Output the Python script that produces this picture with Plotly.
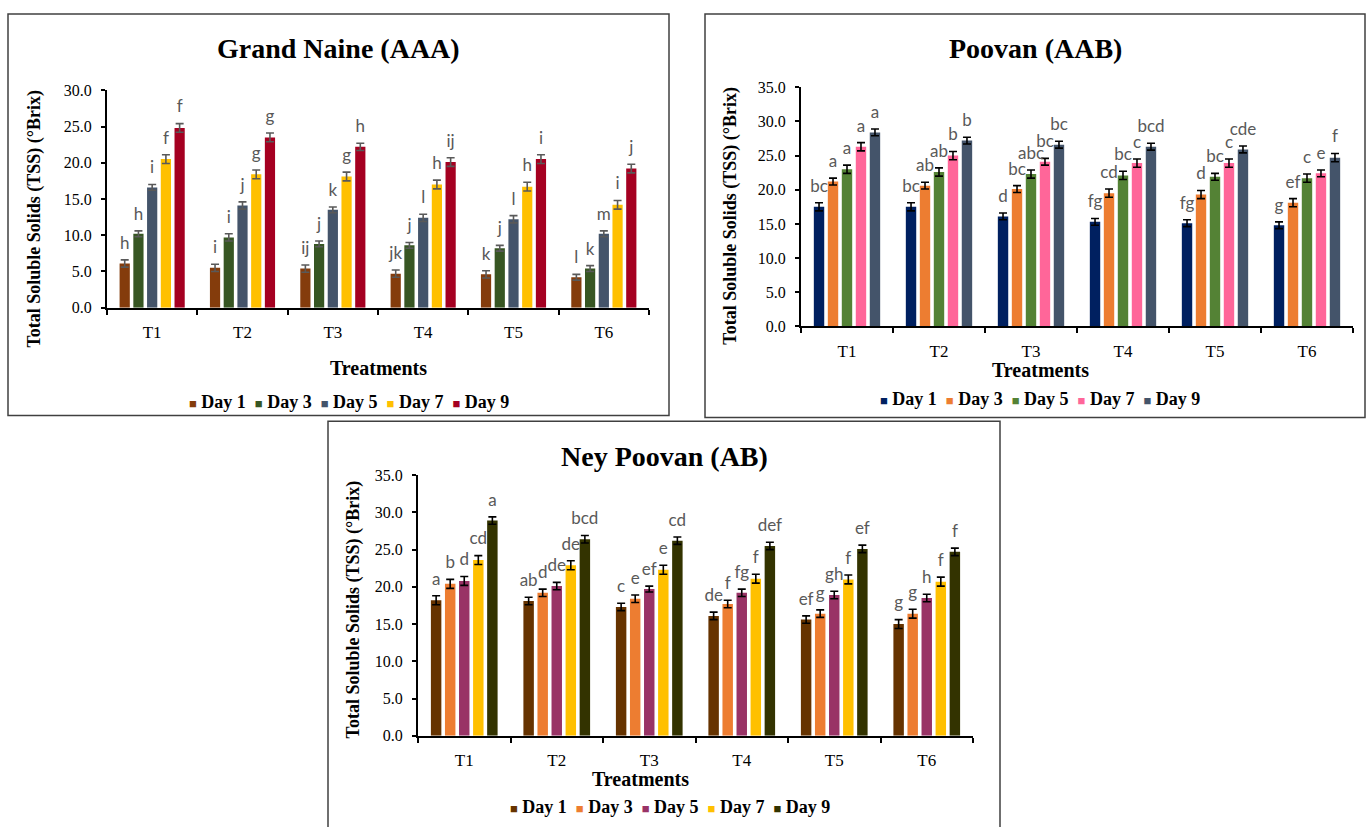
import plotly.graph_objects as go

W_PX, H_PX = 1368, 827

treatments = ["T1", "T2", "T3", "T4", "T5", "T6"]
days = ["Day 1", "Day 3", "Day 5", "Day 7", "Day 9"]

# ---------------- Grand Naine (AAA) ----------------
gn_day1 = [6.1, 5.5, 5.4, 4.7, 4.6, 4.2]
gn_day3 = [10.2, 9.7, 8.8, 8.6, 8.2, 5.4]
gn_day5 = [16.6, 14.1, 13.5, 12.4, 12.2, 10.2]
gn_day7 = [20.5, 18.4, 18.1, 17.0, 16.7, 14.2]
gn_day9 = [24.8, 23.5, 22.2, 20.1, 20.5, 19.2]
gn_err1 = [0.5, 0.5, 0.5, 0.5, 0.5, 0.4]
gn_err3 = [0.4, 0.5, 0.4, 0.4, 0.4, 0.4]
gn_err5 = [0.4, 0.5, 0.4, 0.5, 0.5, 0.4]
gn_err7 = [0.6, 0.6, 0.6, 0.6, 0.6, 0.6]
gn_err9 = [0.6, 0.6, 0.5, 0.6, 0.6, 0.6]
gn_let1 = ["h", "i", "ij", "jk", "k", "l"]
gn_let3 = ["h", "i", "j", "j", "j", "k"]
gn_let5 = ["i", "j", "k", "l", "l", "m"]
gn_let7 = ["f", "g", "g", "h", "h", "i"]
gn_let9 = ["f", "g", "h", "ij", "i", "j"]
gn_colors = ["#843C0C", "#375623", "#44546A", "#FFC000", "#A50021"]

# ---------------- Poovan (AAB) ----------------
pv_day1 = [17.5, 17.5, 16.1, 15.3, 15.1, 14.8]
pv_day3 = [21.2, 20.6, 20.1, 19.5, 19.3, 18.1]
pv_day5 = [23.0, 22.6, 22.3, 22.1, 21.9, 21.7]
pv_day7 = [26.3, 25.0, 24.1, 23.9, 23.9, 22.4]
pv_day9 = [28.4, 27.2, 26.6, 26.3, 25.9, 24.7]
pv_err1 = [0.6, 0.6, 0.5, 0.5, 0.5, 0.5]
pv_err3 = [0.5, 0.5, 0.5, 0.6, 0.6, 0.6]
pv_err5 = [0.6, 0.6, 0.6, 0.6, 0.5, 0.6]
pv_err7 = [0.6, 0.6, 0.5, 0.6, 0.6, 0.5]
pv_err9 = [0.5, 0.5, 0.5, 0.5, 0.5, 0.6]
pv_let1 = ["bc", "bc", "d", "fg", "fg", "g"]
pv_let3 = ["a", "ab", "bc", "cd", "d", "ef"]
pv_let5 = ["a", "ab", "abc", "bc", "bc", "c"]
pv_let7 = ["a", "b", "bc", "c", "c", "e"]
pv_let9 = ["a", "b", "bc", "bcd", "cde", "f"]
pv_colors = ["#002060", "#ED7D31", "#548235", "#FF6699", "#44546A"]

# ---------------- Ney Poovan (AB) ----------------
np_day1 = [18.2, 18.1, 17.3, 16.1, 15.6, 15.0]
np_day3 = [20.4, 19.2, 18.4, 17.7, 16.4, 16.4]
np_day5 = [20.8, 20.1, 19.7, 19.2, 18.9, 18.5]
np_day7 = [23.6, 22.9, 22.3, 21.1, 21.0, 20.7]
np_day9 = [28.9, 26.4, 26.2, 25.5, 25.1, 24.7]
np_err1 = [0.6, 0.5, 0.5, 0.5, 0.5, 0.6]
np_err3 = [0.6, 0.5, 0.5, 0.5, 0.5, 0.6]
np_err5 = [0.6, 0.5, 0.4, 0.5, 0.5, 0.5]
np_err7 = [0.6, 0.6, 0.6, 0.6, 0.6, 0.6]
np_err9 = [0.5, 0.5, 0.5, 0.5, 0.5, 0.5]
np_let1 = ["a", "ab", "c", "de", "ef", "g"]
np_let3 = ["b", "d", "e", "f", "g", "g"]
np_let5 = ["d", "de", "ef", "fg", "gh", "h"]
np_let7 = ["cd", "de", "e", "f", "f", "f"]
np_let9 = ["a", "bcd", "cd", "def", "ef", "f"]
np_colors = ["#663300", "#ED7D31", "#993366", "#FFC000", "#333300"]

SERIF = "Liberation Serif"
LETTER_FONT = "Lato"


def px(x):
    return x / W_PX


def py(y):
    return 1 - y / H_PX


panels = [
    dict(title="Grand Naine (AAA)",
         vals=[gn_day1, gn_day3, gn_day5, gn_day7, gn_day9],
         errs=[gn_err1, gn_err3, gn_err5, gn_err7, gn_err9],
         lets=[gn_let1, gn_let3, gn_let5, gn_let7, gn_let9],
         colors=gn_colors, errcolor="#595959", ymax=30,
         frame=(8, 6, 669, 416), plot=(107, 649, 306, 84),
         title_xy=(338, 41), ytitle_xy=(35, 215), xtitle_xy=(378, 368),
         legend_xy=(349, 402)),
    dict(title="Poovan (AAB)",
         vals=[pv_day1, pv_day3, pv_day5, pv_day7, pv_day9],
         errs=[pv_err1, pv_err3, pv_err5, pv_err7, pv_err9],
         lets=[pv_let1, pv_let3, pv_let5, pv_let7, pv_let9],
         colors=pv_colors, errcolor="#000000", ymax=35,
         frame=(705, 6, 1365, 418), plot=(801, 1353, 325, 81),
         title_xy=(1035, 41), ytitle_xy=(731, 212), xtitle_xy=(1040, 370),
         legend_xy=(1040, 399)),
    dict(title="Ney Poovan (AB)",
         vals=[np_day1, np_day3, np_day5, np_day7, np_day9],
         errs=[np_err1, np_err3, np_err5, np_err7, np_err9],
         lets=[np_let1, np_let3, np_let5, np_let7, np_let9],
         colors=np_colors, errcolor="#000000", ymax=35,
         frame=(328, 422, 1000, 840), plot=(418, 973, 743, 477),
         title_xy=(664, 458), ytitle_xy=(353, 614), xtitle_xy=(640, 787),
         legend_xy=(670, 816)),
]

PITCH = 0.152
BARW = 0.113
LABEL_GAP_PX = 7

fig = go.Figure()
annotations = []
shapes = []
layout_axes = {}

for k, p in enumerate(panels, start=1):
    xa = "x" if k == 1 else f"x{k}"
    ya = "y" if k == 1 else f"y{k}"
    x0, x1, yb, yt = p["plot"]
    pad = LABEL_GAP_PX * p["ymax"] / (yb - yt)
    for j, (vals, errs, lets) in enumerate(zip(p["vals"], p["errs"], p["lets"])):
        xs = [i + (j - 2) * PITCH for i in range(len(treatments))]
        fig.add_trace(go.Bar(
            x=xs, y=vals, width=BARW, name=days[j],
            marker=dict(color=p["colors"][j], line=dict(width=0)),
            error_y=dict(type="data", array=errs, color=p["errcolor"],
                         thickness=1.6, width=4),
            xaxis=xa, yaxis=ya, showlegend=False, hoverinfo="skip"))
        fig.add_trace(go.Scatter(
            x=xs, y=[v + e + pad for v, e in zip(vals, errs)],
            mode="text", text=lets, textposition="top center",
            textfont=dict(family=LETTER_FONT, size=17, color="#595959"),
            xaxis=xa, yaxis=ya, showlegend=False, hoverinfo="skip",
            cliponaxis=False))

    xkey = "xaxis" if k == 1 else f"xaxis{k}"
    ykey = "yaxis" if k == 1 else f"yaxis{k}"
    layout_axes[xkey] = dict(
        domain=[px(x0), px(x1)], range=[-0.5, len(treatments) - 0.5],
        tickmode="array", tickvals=list(range(len(treatments))),
        ticktext=treatments, ticks="", showgrid=False, zeroline=False,
        showline=True, linecolor="black", linewidth=2,
        tickfont=dict(family=SERIF, size=17, color="black"),
        ticklabelstandoff=8,
        minor=dict(tickmode="array",
                   tickvals=[i - 0.5 for i in range(len(treatments) + 1)],
                   ticks="outside", ticklen=5, tickwidth=1.5,
                   tickcolor="black", showgrid=False),
        anchor=ya, fixedrange=True)
    layout_axes[ykey] = dict(
        domain=[py(yb), py(yt)], range=[0, p["ymax"]], tick0=0, dtick=5,
        tickformat=".1f", ticks="outside", ticklen=4, tickwidth=1.5,
        tickcolor="black", showgrid=False, zeroline=False, showline=True,
        linecolor="black", linewidth=2,
        tickfont=dict(family=SERIF, size=16, color="black"),
        ticklabelstandoff=6, anchor=xa, fixedrange=True)

    fx0, fy0, fx1, fy1 = p["frame"]
    shapes.append(dict(type="rect", xref="paper", yref="paper",
                       x0=px(fx0), x1=px(fx1), y0=py(fy1), y1=py(fy0),
                       line=dict(color="#404040", width=1.5)))

    tx, ty = p["title_xy"]
    annotations.append(dict(text=f"<b>{p['title']}</b>", x=px(tx), y=py(ty),
                            xref="paper", yref="paper", showarrow=False,
                            xanchor="center", yanchor="middle",
                            font=dict(family=SERIF, size=28, color="black")))
    yx, yy = p["ytitle_xy"]
    annotations.append(dict(text="<b>Total Soluble Solids (TSS) (°Brix)</b>",
                            x=px(yx), y=py(yy), xref="paper", yref="paper",
                            showarrow=False, textangle=-90,
                            xanchor="center", yanchor="middle",
                            font=dict(family=SERIF, size=18, color="black")))
    xx, xy = p["xtitle_xy"]
    annotations.append(dict(text="<b>Treatments</b>", x=px(xx), y=py(xy),
                            xref="paper", yref="paper", showarrow=False,
                            xanchor="center", yanchor="middle",
                            font=dict(family=SERIF, size=20, color="black")))
    items = []
    for c, d in zip(p["colors"], days):
        items.append(f"<span style='color:{c};font-size:13px'>■</span>\u00a0<b>{d}</b>")
    lx, ly = p["legend_xy"]
    annotations.append(dict(text="\u00a0\u00a0".join(items), x=px(lx), y=py(ly),
                            xref="paper", yref="paper", showarrow=False,
                            xanchor="center", yanchor="middle",
                            font=dict(family=SERIF, size=18, color="black")))

fig.update_layout(
    width=W_PX, height=H_PX, margin=dict(l=0, r=0, t=0, b=0),
    paper_bgcolor="white", plot_bgcolor="white", barmode="overlay",
    showlegend=False, annotations=annotations, shapes=shapes,
    **layout_axes)

fig.write_html("out.html", config={"displayModeBar": False},
               post_script="document.body.style.margin='0px';"
                           "document.body.style.overflow='hidden';")
